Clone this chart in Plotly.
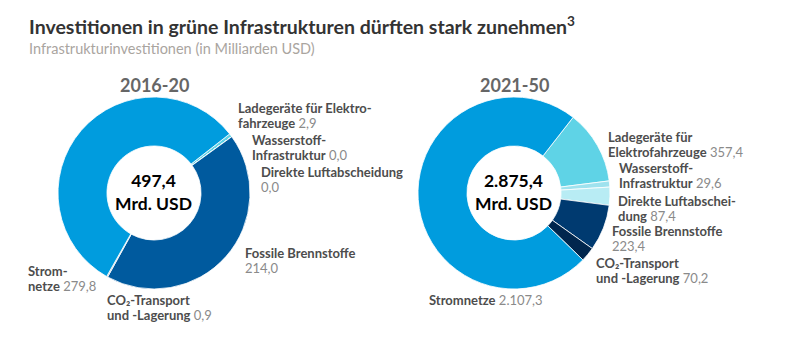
import plotly.graph_objects as go

W, H = 799, 342

# ---------------- data ----------------
categories = ["Ladegeräte für Elektrofahrzeuge", "Wasserstoff-Infrastruktur",
              "Direkte Luftabscheidung", "Fossile Brennstoffe",
              "CO₂-Transport und -Lagerung", "Stromnetze"]
periods = ["2016-20", "2021-50"]
values_2016_20 = [2.9, 0.0, 0.0, 214.0, 0.9, 279.8]
values_2021_50 = [357.4, 29.6, 87.4, 223.4, 70.2, 2107.3]
totals = [497.4, 2875.4]

# label names as broken in the original (per chart); "" = value on its own line
names_2016_20 = [["Ladegeräte für Elektro-", "fahrzeuge"], ["Wasserstoff-", "Infrastruktur"],
                 ["Direkte Luftabscheidung", ""], ["Fossile Brennstoffe", ""],
                 ["CO₂-Transport", "und -Lagerung"], ["Strom-", "netze"]]
names_2021_50 = [["Ladegeräte für", "Elektrofahrzeuge"], ["Wasserstoff-", "Infrastruktur"],
                 ["Direkte Luftabschei-", "dung"], ["Fossile Brennstoffe", ""],
                 ["CO₂-Transport", "und -Lagerung"], ["Stromnetze"]]

colors_2016_20 = ["#5fd3e6", "#9fe2ee", "#b8ecf4", "#005a9e", "#9fb3c4", "#009cde"]
colors_2021_50 = ["#5fd3e6", "#9fe2ee", "#b8ecf4", "#003a70", "#00264d", "#009cde"]

# label anchor positions in pixels (left, centre of first line)
label_pos_2016_20 = [(236, 108), (250, 140), (259, 172), (243, 253), (105, 300), (26, 271)]
label_pos_2021_50 = [(606, 137), (617, 168), (616, 201), (610, 231), (594, 263), (427, 300)]
LINE = 15.2


def de(v, dec=1):
    s = f"{v:,.{dec}f}"
    return s.replace(",", "X").replace(".", ",").replace("X", ".")


def px_x(x):
    return x / W


def px_y(y):
    return 1 - y / H


FONT = "Lato"
fig = go.Figure()

centers = [(154, 193), (514, 193)]
R = 96
for i, (vals, cols, rot) in enumerate([(values_2016_20, colors_2016_20, 52),
                                        (values_2021_50, colors_2021_50, 38)]):
    cx, cy = centers[i]
    fig.add_trace(go.Pie(
        labels=categories, values=vals, sort=False, direction="clockwise",
        rotation=rot, hole=0.49, textinfo="none", hoverinfo="label+value",
        marker=dict(colors=cols, line=dict(color="white", width=0.8)),
        domain=dict(x=[px_x(cx - R), px_x(cx + R)],
                    y=[px_y(cy + R), px_y(cy - R)]),
        showlegend=False,
    ))

annotations = []
# title & subtitle
annotations.append(dict(x=px_x(27), y=px_y(26), xref="paper", yref="paper",
                        xanchor="left", yanchor="middle", showarrow=False,
                        text="Investitionen in grüne Infrastrukturen dürften stark zunehmen<sup>3</sup>",
                        font=dict(family=FONT, size=19.5, color="#333333", weight=700)))
annotations.append(dict(x=px_x(27), y=px_y(48), xref="paper", yref="paper",
                        xanchor="left", yanchor="middle", showarrow=False,
                        text="Infrastrukturinvestitionen (in Milliarden USD)",
                        font=dict(family=FONT, size=14.5, color="#aaa59f")))

for i, period in enumerate(periods):
    cx, cy = centers[i]
    annotations.append(dict(x=px_x(cx), y=px_y(85), xref="paper", yref="paper",
                            xanchor="center", yanchor="middle", showarrow=False,
                            text=period,
                            font=dict(family=FONT, size=18, color="#666666", weight=700)))
    annotations.append(dict(x=px_x(cx - 1), y=px_y(cy - 1), xref="paper", yref="paper",
                            xanchor="center", yanchor="middle", showarrow=False,
                            text=f"{de(totals[i])}<br>Mrd. USD",
                            font=dict(family=FONT, size=17.5, color="#000000", weight=700)))

for names, vals, pos in [(names_2016_20, values_2016_20, label_pos_2016_20),
                         (names_2021_50, values_2021_50, label_pos_2021_50)]:
    for parts, v, (lx, ly) in zip(names, vals, pos):
        for k, p in enumerate(parts):
            if p:
                txt = f"<span style='color:#4d4d4d'><b>{p}</b></span>"
            else:
                txt = ""
            if k == len(parts) - 1:
                txt = (txt + " " if txt else "") + de(v)
            annotations.append(dict(x=px_x(lx), y=px_y(ly + k * LINE), xref="paper", yref="paper",
                                    xanchor="left", yanchor="middle", align="left",
                                    showarrow=False, text=txt,
                                    font=dict(family=FONT, size=13, color="#8a8a8a")))

fig.update_layout(width=W, height=H, margin=dict(l=0, r=0, t=0, b=0),
                  paper_bgcolor="white", plot_bgcolor="white",
                  annotations=annotations, font=dict(family=FONT))

fig.write_html("out.html")
